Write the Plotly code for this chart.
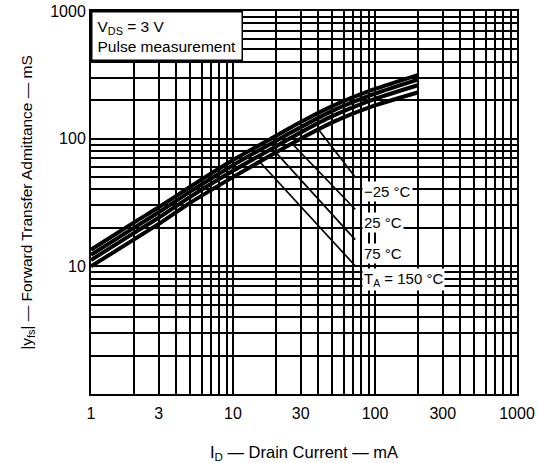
import numpy as np
import plotly.graph_objects as go

# ---- data ----
current_mA = [1, 2, 3, 5, 10, 20, 30, 50, 100, 200]
yfs_m25 = [13.5, 22, 29, 42, 68, 105, 135, 180, 245, 315]
yfs_25 = [12.3, 20, 26.5, 38.5, 62, 96, 123, 165, 225, 290]
yfs_75 = [11.2, 18.2, 24, 35, 56, 87, 112, 150, 205, 262]
yfs_150 = [10.0, 16.2, 21.5, 31.5, 50, 78, 100, 134, 182, 230]

x_tick_vals = [1, 3, 10, 30, 100, 300, 1000]
x_tick_text = ["1", "3", "10", "30", "100", "300", "1000"]
y_tick_vals = [10, 100, 1000]
y_tick_text = ["10", "100", "1000"]

label_texts = ["\u221225 \u00b0C", "25 \u00b0C", "75 \u00b0C", "T<sub>A</sub> = 150 \u00b0C"]
leader_start_mA = [40, 26, 20, 15.4]
leader_end_mA = [72.5, 72.5, 72.5, 72.5]
leader_end_mS = [50, 28, 16.2, 10.1]
label_x_mA = 81
label_y_mS = [38.7, 22, 12.5, 7.9]

FONT = "Liberation Sans"

fig = go.Figure()

for ys in [yfs_m25, yfs_25, yfs_75, yfs_150]:
    fig.add_trace(go.Scatter(x=current_mA, y=ys, mode="lines",
                             line=dict(color="black", width=4, shape="spline", smoothing=0.6),
                             showlegend=False, hoverinfo="skip"))

# leader lines: start on the lowest curve (band edge), end at the label
lx = np.log10(current_mA)
ly = np.log10(yfs_150)
for xs, xe, ye in zip(leader_start_mA, leader_end_mA, leader_end_mS):
    ys = 10 ** np.interp(np.log10(xs), lx, ly)
    fig.add_trace(go.Scatter(x=[xs, xe], y=[ys, ye], mode="lines",
                             line=dict(color="black", width=1.7),
                             showlegend=False, hoverinfo="skip"))

for txt, yv in zip(label_texts, label_y_mS):
    fig.add_annotation(x=np.log10(label_x_mA), y=np.log10(yv), xref="x", yref="y",
                       text=txt, showarrow=False, xanchor="left", yanchor="middle",
                       bgcolor="white", borderpad=1,
                       font=dict(family=FONT, size=15, color="black"))

fig.add_annotation(x=0, y=1, xref="paper", yref="paper", xanchor="left", yanchor="top",
                   text="V<sub>DS</sub> = 3 V<br>Pulse measurement", showarrow=False,
                   align="left", bgcolor="white", bordercolor="black", borderwidth=1.5,
                   borderpad=5, font=dict(family=FONT, size=15.5, color="black"))

axis_common = dict(type="log", range=[0, 3], showgrid=True, gridcolor="black", gridwidth=1.7,
                   showline=True, linecolor="black", linewidth=2, mirror=True,
                   ticks="", zeroline=False, automargin=False,
                   tickfont=dict(family=FONT, size=16, color="black"),
                   minor=dict(dtick="D1", showgrid=True, gridcolor="black", gridwidth=1.7, ticks=""))

fig.update_xaxes(**axis_common, tickmode="array", tickvals=x_tick_vals, ticktext=x_tick_text,
                 ticklabelstandoff=4,
                 title=dict(text="I<sub>D</sub> \u2014 Drain Current \u2014 mA",
                            font=dict(family=FONT, size=16.5, color="black"), standoff=26))
fig.update_yaxes(**axis_common, tickmode="array", tickvals=y_tick_vals, ticktext=y_tick_text,
                 title=dict(text="|y<sub>fs</sub>| \u2014 Forward Transfer Admittance \u2014 mS",
                            font=dict(family=FONT, size=15.5, color="black"), standoff=14))

fig.update_layout(width=538, height=463, margin=dict(l=91, r=21, t=11, b=69),
                  paper_bgcolor="white", plot_bgcolor="white",
                  font=dict(family=FONT, color="black"))

fig.write_html("out.html", config={"displayModeBar": False},
               post_script="document.body.style.margin='0';")
